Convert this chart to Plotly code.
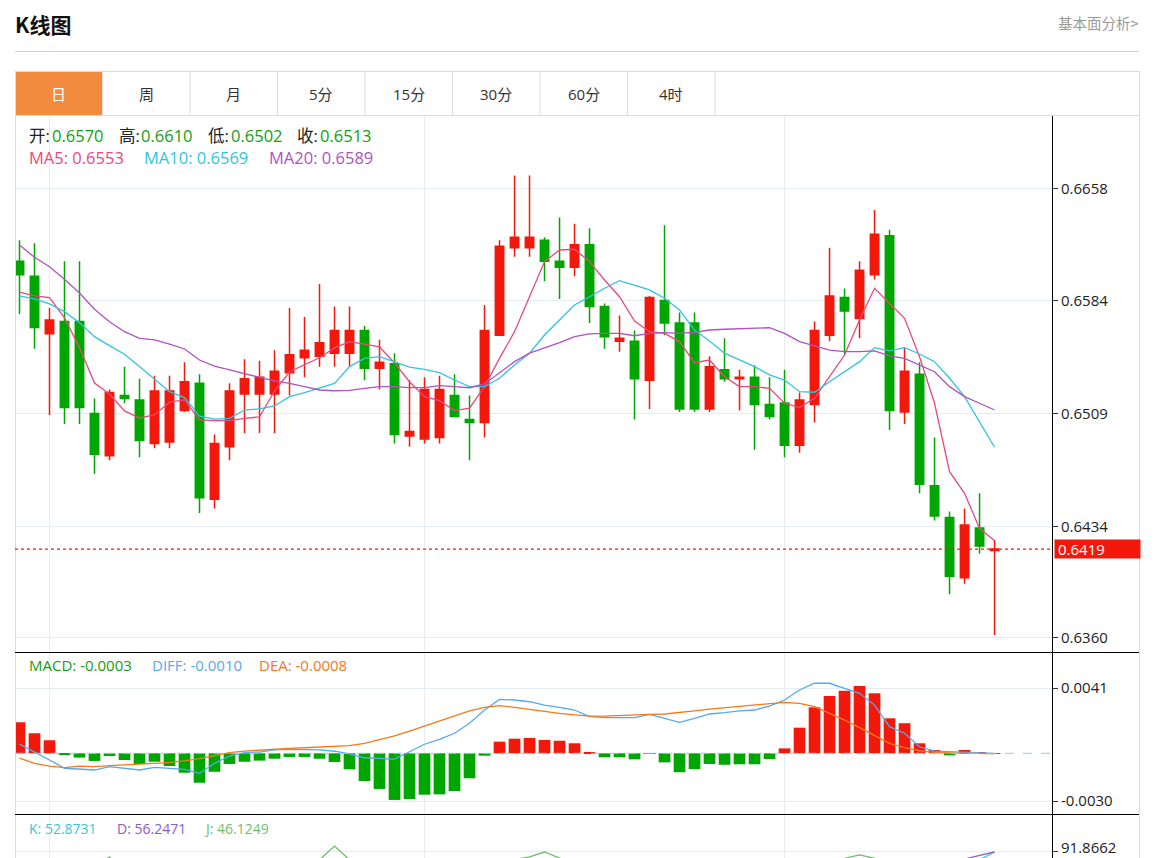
import plotly.graph_objects as go

W, H = 1172, 858

# ---------------- data ----------------
open_ = [0.6610, 0.6600, 0.6562, 0.6570, 0.6570, 0.6509, 0.6481, 0.6521, 0.6518, 0.6489,
         0.6490, 0.6511, 0.6529, 0.6452, 0.6487, 0.6522, 0.6522, 0.6522, 0.6536, 0.6546,
         0.6547, 0.6549, 0.6549, 0.6564, 0.6539, 0.6542, 0.6494, 0.6492, 0.6493, 0.6521,
         0.6505, 0.6503, 0.6561, 0.6619, 0.6619, 0.6624, 0.6610, 0.6606, 0.6621, 0.6580,
         0.6557, 0.6557, 0.6531, 0.6584, 0.6569, 0.6569, 0.6512, 0.6538, 0.6532, 0.6533,
         0.6515, 0.6516, 0.6488, 0.6515, 0.6561, 0.6586, 0.6572, 0.6601, 0.6627, 0.6510,
         0.6535, 0.6461, 0.6440, 0.6400, 0.6433, 0.6418]
high = [0.6624, 0.6622, 0.6579, 0.6610, 0.6610, 0.6519, 0.6525, 0.6540, 0.6532, 0.6534,
        0.6534, 0.6543, 0.6535, 0.6495, 0.6529, 0.6545, 0.6544, 0.6551, 0.6579, 0.6573,
        0.6595, 0.6580, 0.6580, 0.6567, 0.6558, 0.6549, 0.6531, 0.6533, 0.6534, 0.6535,
        0.6521, 0.6581, 0.6624, 0.6667, 0.6667, 0.6626, 0.6639, 0.6635, 0.6632, 0.6582,
        0.6574, 0.6564, 0.6587, 0.6634, 0.6576, 0.6576, 0.6547, 0.6559, 0.6538, 0.6541,
        0.6533, 0.6538, 0.6523, 0.6570, 0.6619, 0.6592, 0.6610, 0.6644, 0.6631, 0.6553,
        0.6543, 0.6493, 0.6444, 0.6446, 0.6456, 0.6425]
low = [0.6575, 0.6552, 0.6508, 0.6502, 0.6502, 0.6469, 0.6478, 0.6516, 0.6480, 0.6486,
       0.6486, 0.6510, 0.6443, 0.6446, 0.6478, 0.6496, 0.6496, 0.6496, 0.6521, 0.6533,
       0.6540, 0.6540, 0.6540, 0.6531, 0.6525, 0.6489, 0.6487, 0.6489, 0.6489, 0.6507,
       0.6478, 0.6493, 0.6561, 0.6613, 0.6613, 0.6597, 0.6585, 0.6600, 0.6569, 0.6552,
       0.6550, 0.6505, 0.6512, 0.6561, 0.6510, 0.6510, 0.6510, 0.6530, 0.6511, 0.6485,
       0.6505, 0.6480, 0.6483, 0.6503, 0.6557, 0.6548, 0.6559, 0.6598, 0.6498, 0.6502,
       0.6456, 0.6438, 0.6389, 0.6396, 0.6416, 0.6362]
close = [0.6601, 0.6566, 0.6571, 0.6513, 0.6513, 0.6482, 0.6523, 0.6519, 0.6491, 0.6524,
         0.6524, 0.6530, 0.6453, 0.6489, 0.6524, 0.6532, 0.6533, 0.6537, 0.6548, 0.6551,
         0.6556, 0.6564, 0.6564, 0.6539, 0.6543, 0.6495, 0.6497, 0.6525, 0.6525, 0.6507,
         0.6503, 0.6564, 0.6620, 0.6626, 0.6626, 0.6610, 0.6606, 0.6621, 0.6580, 0.6560,
         0.6559, 0.6532, 0.6586, 0.6569, 0.6512, 0.6512, 0.6540, 0.6532, 0.6533, 0.6515,
         0.6507, 0.6488, 0.6518, 0.6564, 0.6587, 0.6577, 0.6604, 0.6628, 0.6511, 0.6537,
         0.6462, 0.6441, 0.6401, 0.6435, 0.6421, 0.6419]

ma5 = [0.65896, 0.65870, 0.65859, 0.65724, 0.65528, 0.65292, 0.65219, 0.65107, 0.65060, 0.65080,
       0.65166, 0.65180, 0.65047, 0.65042, 0.65043, 0.65058, 0.65067, 0.65239, 0.65367, 0.65412,
       0.65460, 0.65525, 0.65567, 0.65551, 0.65533, 0.65425, 0.65301, 0.65202, 0.65175, 0.65109,
       0.65125, 0.65268, 0.65456, 0.65633, 0.65865, 0.66098, 0.66175, 0.66180, 0.66098, 0.65976,
       0.65865, 0.65704, 0.65633, 0.65622, 0.65567, 0.65427, 0.65445, 0.65334, 0.65268, 0.65268,
       0.65257, 0.65158, 0.65129, 0.65191, 0.65334, 0.65478, 0.65711, 0.65921, 0.65821, 0.65722,
       0.65467, 0.65158, 0.64704, 0.64560, 0.64328, 0.64246]
ma10 = [0.65870, 0.65850, 0.65817, 0.65766, 0.65692, 0.65600, 0.65540, 0.65483, 0.65401, 0.65319,
        0.65235, 0.65195, 0.65073, 0.65052, 0.65058, 0.65113, 0.65120, 0.65140, 0.65202, 0.65228,
        0.65257, 0.65290, 0.65401, 0.65456, 0.65467, 0.65434, 0.65397, 0.65383, 0.65361, 0.65312,
        0.65268, 0.65268, 0.65324, 0.65412, 0.65490, 0.65611, 0.65711, 0.65810, 0.65865, 0.65921,
        0.65971, 0.65943, 0.65910, 0.65855, 0.65777, 0.65644, 0.65571, 0.65490, 0.65445, 0.65401,
        0.65346, 0.65312, 0.65235, 0.65231, 0.65301, 0.65367, 0.65434, 0.65527, 0.65505, 0.65527,
        0.65485, 0.65434, 0.65324, 0.65202, 0.65036, 0.64866]
ma20 = [0.66208, 0.66127, 0.66064, 0.65981, 0.65890, 0.65782, 0.65699, 0.65633, 0.65589, 0.65578,
        0.65551, 0.65518, 0.65445, 0.65405, 0.65379, 0.65357, 0.65330, 0.65306, 0.65290, 0.65268,
        0.65246, 0.65241, 0.65244, 0.65257, 0.65268, 0.65268, 0.65261, 0.65261, 0.65275, 0.65268,
        0.65261, 0.65286, 0.65357, 0.65434, 0.65490, 0.65523, 0.65560, 0.65600, 0.65618, 0.65622,
        0.65622, 0.65606, 0.65622, 0.65626, 0.65622, 0.65629, 0.65644, 0.65649, 0.65653, 0.65657,
        0.65659, 0.65622, 0.65567, 0.65538, 0.65511, 0.65500, 0.65500, 0.65505, 0.65472, 0.65456,
        0.65412, 0.65367, 0.65268, 0.65202, 0.65158, 0.65113]

diff = [0.00058, 0.00010, -0.00042, -0.00094, -0.00101, -0.00105, -0.00084, -0.00094, -0.00105, -0.00088,
        -0.00094, -0.00101, -0.00126, -0.00063, -0.00017, 0.00004, 0.00008, 0.00021, 0.00025, 0.00025,
        0.00021, 0.00013, -0.00004, -0.00028, -0.00031, -0.00036, 0.00010, 0.00057, 0.00088, 0.00126,
        0.00189, 0.00272, 0.00339, 0.00335, 0.00324, 0.00303, 0.00289, 0.00272, 0.00230, 0.00224,
        0.00224, 0.00224, 0.00245, 0.00220, 0.00195, 0.00220, 0.00247, 0.00255, 0.00266, 0.00272,
        0.00297, 0.00335, 0.00398, 0.00440, 0.00440, 0.00408, 0.00377, 0.00303, 0.00167, 0.00126,
        0.00041, 0.00014, 0.00010, 0.00010, 0.00004, 0.00000]
dea = [-0.00031, -0.00063, -0.00080, -0.00090, -0.00080, -0.00084, -0.00078, -0.00074, -0.00069, -0.00063,
       -0.00057, -0.00048, -0.00034, -0.00017, 0.00004, 0.00014, 0.00021, 0.00027, 0.00031, 0.00035,
       0.00038, 0.00041, 0.00048, 0.00063, 0.00084, 0.00109, 0.00140, 0.00172, 0.00203, 0.00234,
       0.00266, 0.00289, 0.00299, 0.00289, 0.00276, 0.00261, 0.00251, 0.00241, 0.00234, 0.00234,
       0.00239, 0.00243, 0.00245, 0.00247, 0.00255, 0.00266, 0.00278, 0.00287, 0.00297, 0.00303,
       0.00314, 0.00320, 0.00314, 0.00293, 0.00251, 0.00209, 0.00161, 0.00111, 0.00063, 0.00035,
       0.00016, 0.00006, 0.00002, 0.00000, 0.00000, -0.00003]
macd = [0.00195, 0.00126, 0.00082, -0.00010, -0.00027, -0.00048, -0.00017, -0.00042, -0.00067, -0.00053,
        -0.00080, -0.00122, -0.00185, -0.00116, -0.00067, -0.00053, -0.00046, -0.00034, -0.00023, -0.00023,
        -0.00034, -0.00055, -0.00101, -0.00174, -0.00224, -0.00293, -0.00287, -0.00260, -0.00258, -0.00237,
        -0.00157, -0.00015, 0.00073, 0.00092, 0.00096, 0.00084, 0.00079, 0.00063, 0.00002, -0.00025,
        -0.00025, -0.00038, 0.00001, -0.00057, -0.00119, -0.00099, -0.00067, -0.00072, -0.00069, -0.00069,
        -0.00036, 0.00031, 0.00161, 0.00289, 0.00360, 0.00393, 0.00423, 0.00377, 0.00220, 0.00189,
        0.00063, 0.00021, -0.00013, 0.00021, 0.00003, -0.00002]

k_line = [72, 66, 60, 56, 52.8731, 48, 50, 47, 42, 44, 47, 50, 40, 36, 40, 48, 55, 62, 68, 72,
          76, 80, 76, 70, 64, 54, 46, 44, 46, 42, 38, 48, 62, 72, 78, 80, 77, 73, 66, 58,
          52, 46, 52, 55, 46, 40, 42, 44, 45, 42, 38, 40, 50, 62, 72, 76, 78, 76, 62, 58,
          46, 36, 30, 34, 80, 90.5]
d_line = [66, 65, 63, 60, 56.2471, 53, 52, 50, 48, 47, 47, 48, 45, 42, 41, 43, 47, 52, 57, 62,
          66, 70, 72, 71, 69, 64, 58, 53, 50, 47, 44, 45, 51, 58, 65, 70, 72, 72, 70, 66,
          61, 56, 55, 55, 52, 48, 46, 45, 45, 44, 42, 41, 44, 50, 57, 63, 68, 71, 68, 65,
          58, 51, 44, 81, 86, 90.8]
j_line = [60, 52, 48, 46, 46.1249, 70, 83.8, 60, 40, 45, 55, 60, 30, 24, 38, 58, 70, 78, 80, 80,
          80, 98.6, 80, 68, 54, 34, 22, 26, 38, 32, 26, 54, 74, 80, 84, 90.5, 83, 74, 58, 42,
          34, 26, 46, 55, 34, 24, 34, 42, 45, 38, 30, 38, 62, 76, 80, 82, 86.5, 82, 50, 44,
          22, 6, 2, 20, 68, 80]

price_ticks = [0.6360, 0.6434, 0.6509, 0.6584, 0.6658]
macd_ticks = [-0.0030, 0.0041]
kdj_ticks = [91.8662]
grid_x = [2, 27, 51]
tabs = ["日", "周", "月", "5分", "15分", "30分", "60分", "4时"]
hover_idx = 4

# ---------------- styling ----------------
RED = "#f2190c"
GREEN = "#00a600"
TXT_GREEN = "#12a012"
C_MA5 = "#e9487f"
C_MA10 = "#31c4de"
C_MA20 = "#ae52c4"
C_DIFF = "#54a9f0"
C_DEA = "#f7781a"
C_K = "#3ec4d8"
C_D = "#8b5bc8"
C_J = "#6cbf6c"
GRID = "#e5ecf3"
BORDER = "#dcdcdc"
FONT = "Open Sans, Noto Sans CJK SC, sans-serif"
CJK = "Noto Sans CJK SC, sans-serif"

x = list(range(len(close)))
XR = [-0.3, 68.83]


def px(v):
    return v / W


def py(v):
    return 1 - v / H


fig = go.Figure()

fig.add_trace(go.Candlestick(
    x=x, open=open_, high=high, low=low, close=close,
    increasing=dict(line=dict(color=RED, width=1.5), fillcolor=RED),
    decreasing=dict(line=dict(color=GREEN, width=1.5), fillcolor=GREEN),
    whiskerwidth=0, hoverinfo="skip", xaxis="x", yaxis="y", showlegend=False))

for vals, col in [(ma5, C_MA5), (ma10, C_MA10), (ma20, C_MA20)]:
    fig.add_trace(go.Scatter(x=x, y=vals, mode="lines", line=dict(color=col, width=1.3),
                             hoverinfo="skip", xaxis="x", yaxis="y", showlegend=False))

fig.add_trace(go.Bar(x=x, y=macd, width=0.78,
                     marker=dict(color=[RED if v >= 0 else GREEN for v in macd], line=dict(width=0)),
                     hoverinfo="skip", xaxis="x2", yaxis="y2", showlegend=False))
for vals, col in [(diff, C_DIFF), (dea, C_DEA)]:
    fig.add_trace(go.Scatter(x=x, y=vals, mode="lines", line=dict(color=col, width=1.3),
                             hoverinfo="skip", xaxis="x2", yaxis="y2", showlegend=False))

for vals, col in [(k_line, C_K), (d_line, C_D), (j_line, C_J)]:
    fig.add_trace(go.Scatter(x=x, y=vals, mode="lines", line=dict(color=col, width=1.3),
                             hoverinfo="skip", xaxis="x3", yaxis="y3", showlegend=False))

XDOM = [px(15), px(1052)]
xcommon = dict(domain=XDOM, range=XR, showticklabels=False, tickvals=grid_x, ticks="",
               showgrid=True, gridcolor=GRID, gridwidth=1, zeroline=False, showline=False,
               fixedrange=True)
ycommon = dict(side="right", showgrid=True, gridcolor=GRID, gridwidth=1, zeroline=False,
               showline=True, linecolor="#000000", linewidth=1, ticks="outside", ticklen=5,
               tickcolor="#333333", tickfont=dict(size=15, color="#222222", family=FONT),
               fixedrange=True)

fig.update_layout(
    width=W, height=H,
    margin=dict(l=0, r=0, t=0, b=0),
    paper_bgcolor="white", plot_bgcolor="white",
    font=dict(family=FONT, color="#333333"),
    hovermode=False, dragmode=False, showlegend=False,
    boxgap=0.2,
    xaxis=dict(xcommon, anchor="y", rangeslider=dict(visible=False)),
    yaxis=dict(ycommon, domain=[py(652), py(115)], anchor="x", range=[0.63507, 0.67071],
               tickvals=price_ticks, ticktext=[f"{t:.4f}" for t in price_ticks]),
    xaxis2=dict(xcommon, anchor="y2"),
    yaxis2=dict(ycommon, domain=[py(814), py(652)], anchor="x2", range=[-0.003814, 0.006365],
                tickvals=macd_ticks, ticktext=[f"{t:.4f}" for t in macd_ticks]),
    xaxis3=dict(xcommon, anchor="y3"),
    yaxis3=dict(ycommon, domain=[0, py(814)], anchor="x3", range=[82.41, 141.87],
                tickvals=kdj_ticks, showticklabels=False),
)

shapes = []


def hline(y, x0, x1, color, width=1, dash=None):
    shapes.append(dict(type="line", xref="paper", yref="paper", x0=px(x0), x1=px(x1),
                       y0=py(y), y1=py(y), line=dict(color=color, width=width, dash=dash)))


def vline(xv, y0, y1, color, width=1):
    shapes.append(dict(type="line", xref="paper", yref="paper", x0=px(xv), x1=px(xv),
                       y0=py(y0), y1=py(y1), line=dict(color=color, width=width)))


# header separator
hline(51.5, 15, 1139, "#d0d0d0")
# active tab
shapes.append(dict(type="rect", xref="paper", yref="paper", x0=px(16), x1=px(102.5),
                   y0=py(115), y1=py(72), fillcolor="#f38b3f", line=dict(width=0), layer="below"))
# outer box
hline(71.5, 15, 1139, BORDER)
hline(115.5, 15, 1139, BORDER)
vline(15.5, 71, 858, BORDER)
vline(1139.5, 71, 858, BORDER)
for i in range(len(tabs)):
    vline(15 + 87.5 * (i + 1), 71, 115, BORDER)
# panel separators
hline(652.5, 15, 1139, "#000000")
hline(814.5, 15, 1139, "#000000")
# MACD zero line
shapes.append(dict(type="line", xref="x2 domain", yref="y2", x0=0, x1=1, y0=0, y1=0,
                   line=dict(color="#8fcbec", width=1, dash="dash")))
# last price line
shapes.append(dict(type="line", xref="x domain", yref="y", x0=0, x1=1, y0=close[-1], y1=close[-1],
                   line=dict(color=RED, width=1.2, dash="dot")))
fig.update_layout(shapes=shapes)

ann = []


def text(t, xpos, ypos, color, size=15, anchor="left", bold=False, family=FONT, yanchor="middle"):
    ann.append(dict(text=f"<b>{t}</b>" if bold else t, xref="paper", yref="paper",
                    x=px(xpos), y=py(ypos), xanchor=anchor, yanchor=yanchor,
                    showarrow=False, borderpad=0,
                    font=dict(size=size, color=color, family=family)))


text("K线图", 14, 24, "#111111", size=21, bold=True, family=CJK)
text("基本面分析&gt;", 1140, 22, "#9a9a9a", size=14.5, anchor="right", family=CJK)
for i, t in enumerate(tabs):
    text(t, 15 + 87.5 * (i + 0.5), 94, "#ffffff" if i == 0 else "#333333", size=15, anchor="center")

h = hover_idx
row1 = [("开:", 28, "#222222"), (f"{open_[h]:.4f}", 51, TXT_GREEN),
        ("高:", 118, "#222222"), (f"{high[h]:.4f}", 140, TXT_GREEN),
        ("低:", 207, "#222222"), (f"{low[h]:.4f}", 230, TXT_GREEN),
        ("收:", 296, "#222222"), (f"{close[h]:.4f}", 319, TXT_GREEN)]
for t, xp, c in row1:
    text(t, xp, 136, c, size=16.5)
row2 = [(f"MA5: {ma5[h]:.4f}", 28, C_MA5), (f"MA10: {ma10[h]:.4f}", 143, C_MA10),
        (f"MA20: {ma20[h]:.4f}", 268, C_MA20)]
for t, xp, c in row2:
    text(t, xp, 158, c, size=16.5)
row3 = [(f"MACD: {macd[h]:.4f}", 28, TXT_GREEN), (f"DIFF: {diff[h]:.4f}", 151, C_DIFF),
        (f"DEA: {dea[h]:.4f}", 258, C_DEA)]
for t, xp, c in row3:
    text(t, xp, 665, c, size=15)
row4 = [(f"K: {k_line[h]:.4f}", 28, C_K), (f"D: {d_line[h]:.4f}", 116, C_D),
        (f"J: {j_line[h]:.4f}", 203, C_J)]
for t, xp, c in row4:
    text(t, xp, 828, c, size=14)

# KDJ tick label (kept inside the page so it does not overflow the bottom)
text(f"{kdj_ticks[0]:.4f}", 1060, 858, "#222222", size=15, yanchor="bottom")

# last price tag
ann.append(dict(text=f"{close[-1]:.4f}", xref="paper", yref="y", x=px(1054), y=close[-1],
                xanchor="left", yanchor="middle", showarrow=False, align="left",
                bgcolor=RED, borderpad=3, width=79, height=12,
                font=dict(size=15, color="#ffffff", family=FONT)))
fig.update_layout(annotations=ann)

fig.write_html("out.html", config={"displayModeBar": False},
               post_script="document.body.style.margin='0px';document.body.style.overflow='hidden';")
